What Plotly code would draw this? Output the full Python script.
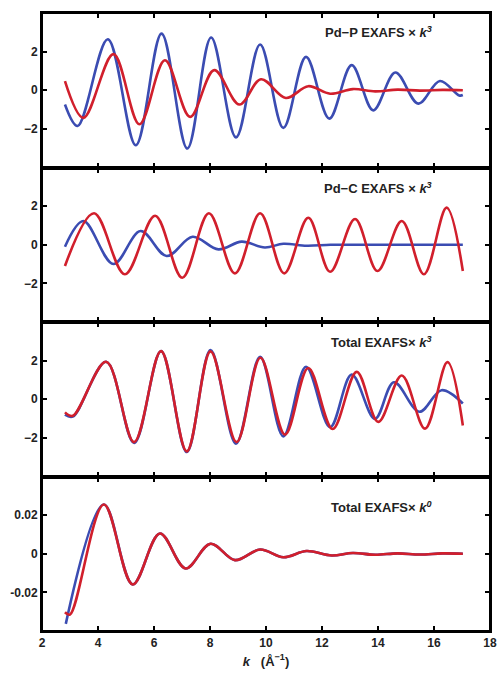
import plotly.graph_objects as go
from plotly.subplots import make_subplots

# ---- data (k in 1/Angstrom) ----
pdp_k_blue = [2.82, 3.27, 4.35, 5.35, 6.27, 7.19, 8.04, 8.93, 9.79, 10.62, 11.43, 12.26, 13.06, 13.83, 14.62, 15.44, 16.21, 16.90, 17.03]
pdp_y_blue = [-0.74, -1.85, 2.64, -2.85, 2.93, -3.02, 2.73, -2.44, 2.37, -1.95, 1.73, -1.47, 1.30, -1.04, 0.92, -0.69, 0.48, -0.27, -0.25]
pdp_k_red = [2.82, 3.48, 4.55, 5.48, 6.39, 7.29, 8.15, 9.05, 9.82, 10.71, 11.51, 12.29, 13.10, 13.90, 14.70, 15.50, 16.30, 17.03]
pdp_y_red = [0.47, -1.43, 1.87, -1.76, 1.55, -1.38, 1.04, -0.74, 0.57, -0.40, 0.21, -0.18, 0.06, -0.06, 0.03, -0.02, 0.02, 0.0]

pdc_k_blue = [2.82, 3.48, 4.55, 5.52, 6.45, 7.38, 8.30, 9.13, 9.96, 10.62, 11.45, 12.30, 13.20, 14.50, 16.00, 17.03]
pdc_y_blue = [-0.10, 1.23, -1.00, 0.71, -0.58, 0.41, -0.24, 0.16, -0.14, 0.05, -0.05, 0.0, 0.0, 0.0, 0.0, 0.0]
pdc_k_red = [2.82, 3.86, 4.96, 6.04, 7.01, 7.96, 8.89, 9.79, 10.65, 11.51, 12.29, 13.18, 13.98, 14.85, 15.64, 16.45, 17.03]
pdc_y_red = [-1.10, 1.63, -1.53, 1.50, -1.71, 1.63, -1.48, 1.63, -1.48, 1.40, -1.40, 1.33, -1.36, 1.23, -1.53, 1.92, -1.36]

tot3_k_blue = [2.82, 3.10, 4.29, 5.29, 6.25, 7.17, 8.02, 8.93, 9.79, 10.62, 11.43, 12.29, 13.06, 13.89, 14.57, 15.48, 16.27, 17.03]
tot3_y_blue = [-0.80, -0.90, 1.94, -2.26, 2.49, -2.73, 2.55, -2.30, 2.20, -1.92, 1.68, -1.45, 1.28, -1.02, 0.88, -0.65, 0.47, -0.22]
tot3_k_red = [2.82, 3.10, 4.29, 5.29, 6.25, 7.17, 8.02, 8.95, 9.80, 10.68, 11.51, 12.38, 13.24, 14.01, 14.85, 15.68, 16.48, 17.03]
tot3_y_red = [-0.68, -0.86, 1.94, -2.22, 2.49, -2.70, 2.48, -2.22, 2.15, -1.83, 1.62, -1.54, 1.42, -1.17, 1.23, -1.52, 1.92, -1.36]

tot0_k_blue = [2.85, 4.21, 5.24, 6.21, 7.13, 8.02, 8.89, 9.79, 10.62, 11.45, 12.35, 13.10, 13.90, 14.70, 15.50, 16.30, 17.03]
tot0_y_blue = [-0.0363, 0.0255, -0.0159, 0.0105, -0.0076, 0.0052, -0.0033, 0.0022, -0.0018, 0.0014, -0.0009, 0.0004, -0.0005, 0.0002, -0.0004, 0.0002, 0.0]
tot0_k_red = [2.82, 3.00, 4.21, 5.24, 6.21, 7.13, 8.02, 8.89, 9.79, 10.62, 11.45, 12.35, 13.10, 13.90, 14.70, 15.50, 16.30, 17.03]
tot0_y_red = [-0.0303, -0.0315, 0.0255, -0.0159, 0.0105, -0.0076, 0.0052, -0.0033, 0.0022, -0.0018, 0.0014, -0.0009, 0.0004, -0.0005, 0.0002, -0.0004, 0.0002, 0.0]

panel_titles = ["Pd\u2212P EXAFS \u00d7 ", "Pd\u2212C EXAFS \u00d7 ", "Total EXAFS\u00d7 ", "Total EXAFS\u00d7 "]
panel_powers = ["3", "3", "3", "0"]
x_ticks = [2, 4, 6, 8, 10, 12, 14, 16, 18]
x_ticktext = ["2", "4", "6", "8", "10", "12", "14", "16", "18"]
y_ticks_k3 = [-2, 0, 2]
y_ticktext_k3 = ["\u22122", "0", "2"]
y_ticks_k0 = [-0.02, 0, 0.02]
y_ticktext_k0 = ["-0.02", "0", "0.02"]

BLUE = "#3b4cb2"
RED = "#d11f2c"
FONT = "Liberation Sans, Arial, sans-serif"
TXT = "#222222"

fig = make_subplots(rows=4, cols=1, shared_xaxes=False, vertical_spacing=0)

series = [
    (pdp_k_blue, pdp_y_blue, pdp_k_red, pdp_y_red),
    (pdc_k_blue, pdc_y_blue, pdc_k_red, pdc_y_red),
    (tot3_k_blue, tot3_y_blue, tot3_k_red, tot3_y_red),
    (tot0_k_blue, tot0_y_blue, tot0_k_red, tot0_y_red),
]
for i, (kb, yb, kr, yr) in enumerate(series, start=1):
    fig.add_trace(go.Scatter(x=kb, y=yb, mode="lines",
                             line=dict(color=BLUE, width=2.6, shape="spline", smoothing=1.0)),
                  row=i, col=1)
    fig.add_trace(go.Scatter(x=kr, y=yr, mode="lines",
                             line=dict(color=RED, width=2.6, shape="spline", smoothing=1.0)),
                  row=i, col=1)

bold = lambda lst: [f"<b>{t}</b>" for t in lst]

for i in range(1, 5):
    fig.update_xaxes(range=[2, 18], tickvals=x_ticks, ticktext=bold(x_ticktext),
                     ticks="inside", ticklen=5, tickwidth=1.5, tickcolor="black",
                     showline=True, linecolor="black", linewidth=2,
                     mirror="ticks", showgrid=False, zeroline=False, automargin=False,
                     showticklabels=(i == 4),
                     tickfont=dict(family=FONT, size=12, color=TXT),
                     row=i, col=1)
    if i < 4:
        fig.update_yaxes(range=[-4, 4], tickvals=y_ticks_k3, ticktext=bold(y_ticktext_k3), row=i, col=1)
    else:
        fig.update_yaxes(range=[-0.04, 0.04], tickvals=y_ticks_k0, ticktext=bold(y_ticktext_k0), row=i, col=1)
    fig.update_yaxes(ticks="inside", ticklen=5, tickwidth=1.5, tickcolor="black",
                     showline=True, linecolor="black", linewidth=2,
                     mirror="ticks", showgrid=False, zeroline=False, automargin=False,
                     tickfont=dict(family=FONT, size=12, color=TXT),
                     row=i, col=1)

# panel frames (paper coordinates of each subplot's domain)
for i in range(1, 5):
    ya = fig.layout["yaxis" if i == 1 else f"yaxis{i}"]
    y0, y1 = ya.domain
    fig.add_shape(type="rect", xref="paper", yref="paper",
                  x0=0, x1=1, y0=y0, y1=y1, line=dict(color="black", width=2),
                  fillcolor="rgba(0,0,0,0)", layer="above")

label_y = [0.877, 0.870, 0.870, 0.805]
for i in range(4):
    sfx = "" if i == 0 else str(i + 1)
    fig.add_annotation(
        text=f"<b>{panel_titles[i]}<i>k</i><sup><i>{panel_powers[i]}</i></sup></b>",
        xref=f"x{sfx} domain", yref=f"y{sfx} domain", x=0.875, y=label_y[i],
        xanchor="right", yanchor="middle",
        showarrow=False, font=dict(family=FONT, size=13, color=TXT))

fig.update_xaxes(title=dict(text="<b><i>k</i>   (\u00c5<sup>\u22121</sup>)</b>",
                            font=dict(family=FONT, size=13, color=TXT), standoff=7),
                 row=4, col=1)

fig.update_layout(width=498, height=673, showlegend=False,
                  margin=dict(l=42, r=8, t=13, b=42, autoexpand=False),
                  paper_bgcolor="white", plot_bgcolor="white")

# remove the default page margin so the figure fills the window without scrollbars
fig.write_html("out.html", config={"displayModeBar": False},
               post_script="document.body.style.margin='0';document.body.style.overflow='hidden';")
